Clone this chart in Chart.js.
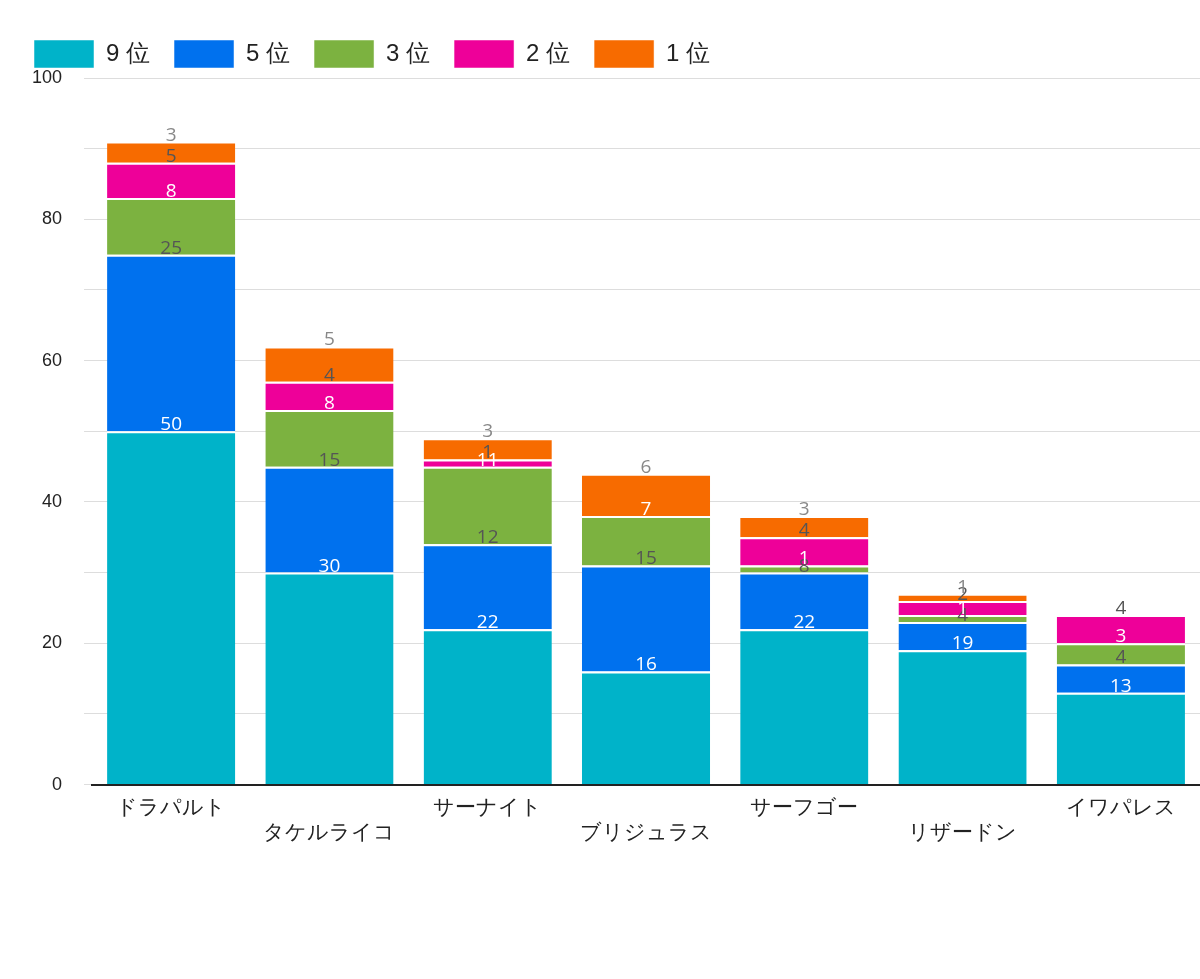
<!DOCTYPE html>
<html>
<head>
<meta charset="utf-8">
<script src="https://cdn.jsdelivr.net/npm/chart.js@4"></script>
<style>
  body { margin: 0; background: #fff; }
  #wrap { width: 1200px; height: 979px; }
</style>
</head>
<body>
<div id="wrap"><canvas id="c"></canvas></div>
<script>
const names = ['ドラパルト', 'タケルライコ', 'サーナイト', 'ブリジュラス', 'サーフゴー', 'リザードン', 'イワパレス'];
const rank9 = [50, 30, 22, 16, 22, 19, 13];
const rank5 = [25, 15, 12, 15, 8, 4, 4];
const rank3 = [8, 8, 11, 7, 1, 1, 3];
const rank2 = [5, 4, 1, 0, 4, 2, 4];
const rank1 = [3, 5, 3, 6, 3, 1, 0];

// labels sit just above each segment's top, colour per series
const labelColors = ['#ffffff', '#555555', '#ffffff', '#555555', '#888888'];

const segLabels = {
    id: 'segLabels',
    afterDatasetsDraw(chart) {
        const ctx = chart.ctx;
        ctx.save();
        ctx.font = '19px "Open Sans", sans-serif';
        ctx.textAlign = 'center';
        ctx.textBaseline = 'bottom';
        chart.data.datasets.forEach((ds, i) => {
            chart.getDatasetMeta(i).data.forEach((bar, j) => {
                if (!ds.data[j]) return;
                ctx.fillStyle = labelColors[i];
                ctx.fillText(ds.data[j], bar.x, bar.y + 3);
            });
        });
        ctx.restore();
    }
};

// push the legend right to line up with the plot and add space below it
const legendShift = {
    id: 'legendShift',
    beforeInit(chart) {
        const fit = chart.legend.fit;
        chart.legend.fit = function () {
            fit.bind(chart.legend)();
            this.height += 12;
        };
    },
    beforeDraw(chart) {
        chart.ctx.save();
        chart.ctx.translate(56, -8);
    },
    afterDraw() {}
};

new Chart(document.getElementById('c'), {
    type: 'bar',
    data: {
        labels: names.map((n, i) => i % 2 ? ['', n] : n),
        datasets: [
            { label: '9 位', data: rank9, backgroundColor: '#00b3c9' },
            { label: '5 位', data: rank5, backgroundColor: '#0071ee' },
            { label: '3 位', data: rank3, backgroundColor: '#7cb240' },
            { label: '2 位', data: rank2, backgroundColor: '#ee0099' },
            { label: '1 位', data: rank1, backgroundColor: '#f76b00' }
        ].map(d => Object.assign(d, { borderColor: '#ffffff', borderWidth: { top: 2 }, borderSkipped: 'bottom', categoryPercentage: 0.81, barPercentage: 1 }))
    },
    options: {
        responsive: true,
        maintainAspectRatio: false,
        animation: false,
        layout: { padding: { left: 10, right: 0, top: 16, bottom: 130 } },
        plugins: {
            legend: {
                align: 'start',
                labels: {
                    boxWidth: 60, boxHeight: 28, padding: 24, color: '#222',
                    font: { size: 24 }
                }
            },
            tooltip: { enabled: false }
        },
        scales: {
            x: {
                stacked: true,
                grid: { display: false },
                border: { color: '#222', width: 2 },
                ticks: { font: { size: 21 }, color: '#222', maxRotation: 0, autoSkip: false }
            },
            y: {
                stacked: true,
                min: 0, max: 100,
                border: { display: false },
                grid: { color: '#dddddd' },
                ticks: {
                    stepSize: 10,
                    font: { size: 18 }, color: '#222', padding: 22,
                    callback: v => v % 20 === 0 ? v : ''
                }
            }
        }
    },
    plugins: [segLabels, {
        id: 'legendMove',
        afterLayout(chart) {
            const lg = chart.legend;
            lg.legendHitBoxes.forEach(b => { b.left += chart.chartArea.left - 24; });
        }
    }]
});
</script>
</body>
</html>
